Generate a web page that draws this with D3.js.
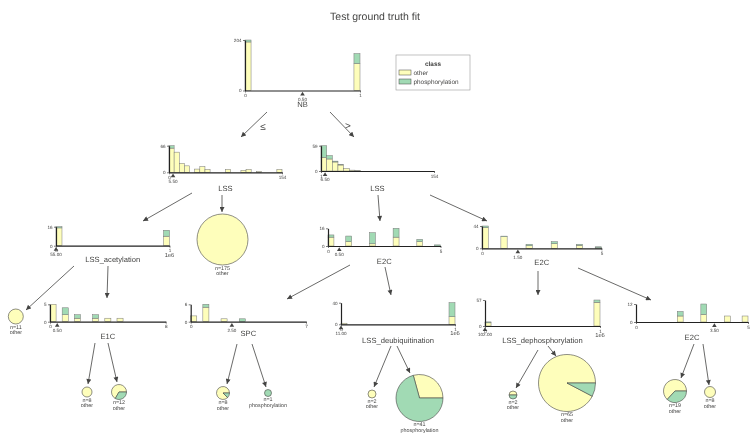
<!DOCTYPE html>
<html>
<head>
<meta charset="utf-8">
<script src="https://cdn.jsdelivr.net/npm/d3@7/dist/d3.min.js"></script>
<style>
  body { margin: 0; background: #fff; }
  svg { font-family: "Liberation Sans", Arial, sans-serif; will-change: transform; }
  text { text-rendering: geometricPrecision; }
</style>
</head>
<body>
<svg id="chart" width="750" height="433"></svg>
<script>
const title = 'Test ground truth fit';
const classNames = ['other', 'phosphorylation'];
const classColors = ['#fefebb', '#a1dab4'];
const ink = '#444443';

// split nodes, in drawing order
const nodeFeatures = ['NB', 'LSS', 'LSS', 'LSS_acetylation', 'E2C', 'E2C', 'E1C', 'SPC',
  'LSS_deubiquitination', 'LSS_dephosphorylation', 'E2C'];
const nodeSplits = [0.5, 5.5, 6.5, 55, 0.5, 1.5, 0.5, 2.5, 11, 102, 3.5];
const nodeDomains = [[0, 1], [0, 154], [1, 154], [0, 1e6], [0, 5], [0, 5], [0, 8], [0, 7],
  [0, 1e6], [0, 1e6], [0, 5]];
const nodeBinCounts = [19, 22, 20, 19, 19, 19, 19, 19, 19, 19, 19];

// histogram bins per node: bin index, count of "other", count of "phosphorylation"
const nbBins = [0, 18];
const nbOther = [196, 109];
const nbPhos = [8, 40];

const lssLeftBins = [0, 1, 2, 3, 5, 6, 7, 11, 14, 15, 17, 21];
const lssLeftOther = [60, 50, 22, 16, 8, 14, 7, 7, 5, 7, 2, 7];
const lssLeftPhos = [6, 0, 0, 0, 0, 0, 0, 0, 0, 0, 0, 0];

const lssRightBins = [0, 1, 2, 3, 4, 5, 6];
const lssRightOther = [32, 28, 21, 14, 6, 2, 1];
const lssRightPhos = [27, 8, 2, 1, 0, 0, 0];

const acetylBins = [0, 18];
const acetylOther = [15, 8];
const acetylPhos = [1, 5];

const e2cLeftBins = [0, 3, 7, 11, 15, 18];
const e2cLeftOther = [8, 4, 2, 8, 4, 0];
const e2cLeftPhos = [2, 5, 10, 8, 2, 1];

const e2cRightBins = [0, 3, 7, 11, 15, 18];
const e2cRightOther = [41, 23, 5, 9, 6, 1];
const e2cRightPhos = [3, 1, 3, 4, 2, 2];

const e1cBins = [0, 2, 4, 7, 9, 11];
const e1cOther = [5, 2, 1, 1, 1, 1];
const e1cPhos = [0, 2, 1, 1, 0, 0];

const spcBins = [0, 2, 5, 8];
const spcOther = [2, 5, 1, 0];
const spcPhos = [0, 1, 0, 1];

const deubiqBins = [0, 18];
const deubiqOther = [2, 14];
const deubiqPhos = [0, 26];

const dephosBins = [0, 18];
const dephosOther = [7, 52];
const dephosPhos = [2, 5];

const e2cLowBins = [7, 11, 15, 18];
const e2cLowOther = [4, 5, 4, 4];
const e2cLowPhos = [3, 7, 0, 0];

const nodeBins = [nbBins, lssLeftBins, lssRightBins, acetylBins, e2cLeftBins, e2cRightBins,
  e1cBins, spcBins, deubiqBins, dephosBins, e2cLowBins];
const nodeOther = [nbOther, lssLeftOther, lssRightOther, acetylOther, e2cLeftOther, e2cRightOther,
  e1cOther, spcOther, deubiqOther, dephosOther, e2cLowOther];
const nodePhos = [nbPhos, lssLeftPhos, lssRightPhos, acetylPhos, e2cLeftPhos, e2cRightPhos,
  e1cPhos, spcPhos, deubiqPhos, dephosPhos, e2cLowPhos];

// leaves
const leafCounts = [175, 11, 8, 12, 8, 1, 2, 41, 2, 65, 19, 8];
const leafOther = [175, 11, 8, 8, 7, 0, 2, 12, 1, 60, 12, 8];
const leafPhos = [0, 0, 0, 4, 1, 1, 0, 29, 1, 5, 7, 0];
const leafClass = ['other', 'other', 'other', 'other', 'other', 'phosphorylation', 'other',
  'phosphorylation', 'other', 'other', 'other', 'other'];

// layout: axis x0, x1, baseline y, top y, feature label y
const nodeBoxes = [
  [245, 360, 90.5, 40, 104.5],
  [169, 282, 172.3, 145.7, 188],
  [321, 434, 171, 145.7, 188],
  [56, 169.5, 245.7, 226.7, 259.5],
  [328, 440.5, 246, 228.3, 261.7],
  [482, 601.5, 248.3, 226, 262.7],
  [50, 165.7, 321.7, 304.3, 336.7],
  [190.7, 306, 321.7, 304.3, 333.3],
  [341, 455, 324.3, 302.7, 340],
  [485, 600, 326, 300, 340],
  [636, 748, 322, 304, 337]
];
// leaf centre x, y and radius
const leafBoxes = [
  [222.5, 239.5, 25.5], [15.8, 316.5, 7.5], [87, 392, 5], [119, 392, 7.5],
  [223, 393, 6.5], [268, 393, 3.5], [372, 394, 4], [419.5, 398, 23.5],
  [513, 395, 4], [567, 383, 28.5], [675, 391, 11.5], [710, 392, 5.5]
];
// edges: start x, y, end x, y
const edges = [
  [267, 112, 241, 137], [330, 112, 354, 137],
  [192, 193, 143, 221], [222, 195, 222, 212],
  [378, 195, 380, 221], [430, 195, 487, 221],
  [74, 266, 26, 310], [108, 266, 107, 298],
  [350, 265, 287, 299], [385, 267, 391, 295],
  [538, 271, 538, 295], [578, 268, 651, 300],
  [95, 343, 88, 384], [108, 343, 117, 382],
  [237, 344, 227, 384], [252, 344, 266, 387],
  [391, 346, 374, 387], [397, 346, 410, 373],
  [538, 350, 516, 388], [548, 346, 556, 356],
  [694, 344, 681, 378], [703, 344, 709, 385]
];

const svg = d3.select('#chart');

svg.append('text')
  .attr('x', 375).attr('y', 20)
  .attr('text-anchor', 'middle')
  .attr('font-size', 10.5)
  .attr('fill', ink)
  .text(title);

svg.append('defs').append('marker')
  .attr('id', 'arrow')
  .attr('viewBox', '0 0 10 10')
  .attr('refX', 10).attr('refY', 5)
  .attr('markerUnits', 'userSpaceOnUse')
  .attr('markerWidth', 6).attr('markerHeight', 5)
  .attr('orient', 'auto')
  .append('path')
  .attr('d', 'M0,0L10,5L0,10Z')
  .attr('fill', ink);

svg.append('g').selectAll('line')
  .data(edges)
  .enter().append('line')
  .attr('x1', d => d[0]).attr('y1', d => d[1])
  .attr('x2', d => d[2]).attr('y2', d => d[3])
  .attr('stroke', ink)
  .attr('stroke-width', 0.8)
  .attr('marker-end', 'url(#arrow)');

svg.append('text').attr('x', 263).attr('y', 130).attr('text-anchor', 'middle')
  .attr('font-size', 10).attr('fill', ink).text('≤');
svg.append('text').attr('x', 348).attr('y', 129).attr('text-anchor', 'middle')
  .attr('font-size', 10).attr('fill', ink).text('>');

function drawSplitNode(i) {
  const [ax0, ax1, base, top, labelY] = nodeBoxes[i];
  const domain = nodeDomains[i];
  const big = domain[1] >= 1e6;
  const bins = nodeBins[i], other = nodeOther[i], phos = nodePhos[i];
  const totals = other.map((o, k) => o + phos[k]);
  const ymax = d3.max(totals);

  const x = d3.scaleLinear().domain(domain).range([ax0, ax1]);
  const y = d3.scaleLinear().domain([0, ymax]).range([base, top]);
  const w = (domain[1] - domain[0]) / nodeBinCounts[i];
  const g = svg.append('g');

  const stacks = [];
  bins.forEach((b, k) => {
    const lo = domain[0] + b * w, hi = lo + w;
    stacks.push({lo, hi, y0: 0, y1: other[k], c: 0});
    stacks.push({lo, hi, y0: other[k], y1: other[k] + phos[k], c: 1});
  });

  g.selectAll('rect')
    .data(stacks.filter(s => s.y1 > s.y0))
    .enter().append('rect')
    .attr('x', d => x(d.lo))
    .attr('width', d => x(d.hi) - x(d.lo))
    .attr('y', d => y(d.y1))
    .attr('height', d => y(d.y0) - y(d.y1))
    .attr('fill', d => classColors[d.c])
    .attr('stroke', '#777')
    .attr('stroke-width', 0.5);

  const yAxis = g.append('g')
    .attr('transform', `translate(${ax0},0)`)
    .call(d3.axisLeft(y).tickValues([0, ymax]).tickSize(2).tickSizeOuter(0).tickPadding(1.5)
      .tickFormat(d3.format('d')));
  const xAxis = g.append('g')
    .attr('transform', `translate(0,${base})`)
    .call(d3.axisBottom(x).tickValues(domain).tickSize(2).tickSizeOuter(0).tickPadding(1.5)
      .tickFormat(d => d3.format('~g')(big ? d / 1e6 : d)));

  [yAxis, xAxis].forEach(a => {
    a.select('.domain').attr('stroke', '#222').attr('stroke-width', 1.2);
    a.selectAll('.tick line').attr('stroke', '#222').attr('stroke-width', 0.6);
    a.selectAll('.tick text').attr('font-size', 4.6).attr('fill', ink)
      .attr('font-family', '"Liberation Sans", Arial, sans-serif');
  });

  const sx = x(nodeSplits[i]);
  g.append('path')
    .attr('d', `M${sx},${base + 1.2}L${sx + 2.3},${base + 5}L${sx - 2.3},${base + 5}Z`)
    .attr('fill', ink);
  g.append('text')
    .attr('x', sx).attr('y', base + 10.2)
    .attr('text-anchor', 'middle')
    .attr('font-size', 4.6).attr('fill', ink)
    .text(d3.format('.2f')(nodeSplits[i]));

  if (big) {
    g.append('text')
      .attr('x', ax1).attr('y', base + 11)
      .attr('text-anchor', 'middle')
      .attr('font-size', 5.8).attr('fill', ink)
      .text('1e6');
  }

  g.append('text')
    .attr('x', (ax0 + ax1) / 2).attr('y', labelY + 2.7)
    .attr('text-anchor', 'middle')
    .attr('font-size', 7.6).attr('fill', ink)
    .text(nodeFeatures[i]);
}

nodeFeatures.forEach((f, i) => drawSplitNode(i));

// leaves as pies, wedges counter-clockwise from 3 o'clock
const pie = d3.pie().sort(null).startAngle(Math.PI / 2).endAngle(Math.PI / 2 - 2 * Math.PI);
leafCounts.forEach((n, i) => {
  const [cx, cy, r] = leafBoxes[i];
  const g = svg.append('g').attr('transform', `translate(${cx},${cy})`);
  const arc = d3.arc().innerRadius(0).outerRadius(r);
  const vals = [leafOther[i], leafPhos[i]];
  g.selectAll('path')
    .data(pie(vals).map((d, k) => ({...d, c: k})).filter(d => d.value > 0))
    .enter().append('path')
    .attr('d', arc)
    .attr('fill', d => classColors[d.c])
    .attr('stroke', ink)
    .attr('stroke-width', 0.6);
  g.append('text')
    .attr('y', r + 4.6)
    .attr('text-anchor', 'middle')
    .attr('font-size', 5.4).attr('fill', ink)
    .text(`n=${n}`);
  g.append('text')
    .attr('y', r + 10.3)
    .attr('text-anchor', 'middle')
    .attr('font-size', 5.4).attr('fill', ink)
    .text(leafClass[i]);
});

// legend
const legend = svg.append('g');
legend.append('rect')
  .attr('x', 396).attr('y', 55).attr('width', 74).attr('height', 35)
  .attr('fill', '#fff').attr('stroke', '#999').attr('stroke-width', 0.6);
legend.append('text')
  .attr('x', 433).attr('y', 65.5)
  .attr('text-anchor', 'middle')
  .attr('font-size', 6.4).attr('font-weight', 'bold').attr('fill', ink)
  .text('class');
classNames.forEach((c, k) => {
  legend.append('rect')
    .attr('x', 399).attr('y', 70 + k * 9).attr('width', 12).attr('height', 5)
    .attr('fill', classColors[k]).attr('stroke', ink).attr('stroke-width', 0.5);
  legend.append('text')
    .attr('x', 413.5).attr('y', 74.6 + k * 9)
    .attr('font-size', 6.4).attr('fill', ink)
    .text(c);
});
</script>
</body>
</html>
